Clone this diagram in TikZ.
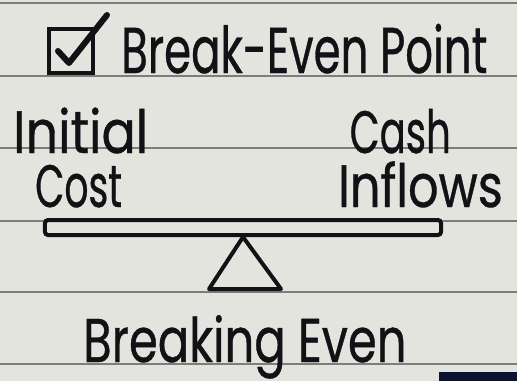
\documentclass[tikz,border=0pt]{standalone}
\usepackage{fontspec}
\setmainfont{Poppins}[FakeStretch=0.8, FakeBold=0.6]
\definecolor{paper}{RGB}{228,228,223}
\definecolor{rule}{RGB}{125,125,122}
\definecolor{ink}{RGB}{18,18,22}
\definecolor{navy}{RGB}{12,18,48}
\usetikzlibrary{positioning}

\begin{document}
\begin{tikzpicture}[x=1bp, y=-1bp, every node/.style={inner sep=0pt, text=ink}]
  % paper and ruled lines
  \fill[paper] (0,0) rectangle (517,381);
  \useasboundingbox (0,0) rectangle (517,381);
  \foreach \yy in {3,76,148,221,292,364}
    \draw[rule, line width=1.6bp] (0,\yy) -- (517,\yy);

  % title with ticked box
  \node[draw=ink, line width=4bp, minimum width=44bp, minimum height=44bp] (chkbox) at (71,51) {};
  \draw[ink, line width=6bp, line cap=round, line join=round] (58,51) -- (69,63) -- (107,15);
  \node[anchor=base west, font=\fontsize{65}{65}\selectfont] (title) at (121,73) {\scalebox{0.84}[1]{Break-Even Point}};

  % the two sides
  \node[anchor=base west, font=\fontsize{60}{60}\selectfont] (initial) at (13,153) {\scalebox{1.06}[1]{Initial}};
  \node[anchor=base west, font=\fontsize{60}{60}\selectfont] (cost) at (35,207) {\scalebox{0.79}[1]{Cost}};
  \node[anchor=base east, font=\fontsize{60}{60}\selectfont] (cash) at (451,153) {\scalebox{0.81}[1]{Cash}};
  \node[anchor=base east, font=\fontsize{60}{60}\selectfont] (inflows) at (503,207) {\scalebox{1.0}[1]{Inflows}};

  % seesaw
  \node[draw=ink, line width=4bp, rounded corners=3bp, minimum width=396bp, minimum height=15bp] (beam) at (243,227.5) {};
  \draw[ink, line width=4bp, line join=round] (beam.south) -- (209,289) -- (281,289) -- cycle;

  \node[anchor=base west, font=\fontsize{62}{62}\selectfont] (result) at (83,362) {\scalebox{0.94}[1]{Breaking Even}};

  \fill[navy] (439,372) rectangle (517,381);
\end{tikzpicture}
\end{document}
